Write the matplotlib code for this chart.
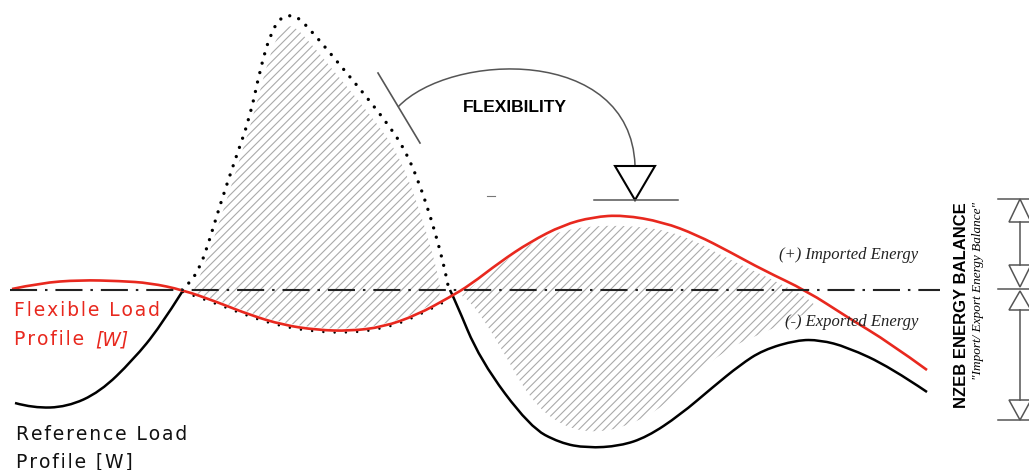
import matplotlib.pyplot as plt
from matplotlib.path import Path
from matplotlib.patches import PathPatch, Polygon

# curve points (pixel coords, y down)
red_x = [12, 40, 80, 120, 150, 183, 217, 250, 283, 317, 350, 383, 417, 450, 470,
         500, 530, 563, 593, 623, 663, 697, 730, 763, 807, 847, 890, 927]
red_y = [289, 283, 280, 281, 283, 290, 302, 315, 325, 330, 331, 327, 315, 297, 285,
         262, 242, 225, 217, 215, 222, 235, 252, 270, 291, 317, 343, 370]

ref_left_x = [15, 33, 67, 100, 133, 160, 182]
ref_left_y = [403, 408, 407, 392, 360, 327, 292]

ref_peak_x = [182, 190, 200, 208, 220, 235, 250, 260, 270, 280, 290, 298, 315,
              340, 365, 390, 405, 418, 430, 440, 446, 449]
ref_peak_y = [290, 283, 267, 245, 205, 160, 117, 70, 35, 18, 15, 17, 35,
              65, 95, 127, 150, 180, 215, 250, 275, 290]

ref_right_x = [450, 455, 480, 530, 560, 587, 620, 647, 680, 713, 740, 763, 797,
               820, 847, 890, 927]
ref_right_y = [290, 300, 360, 427, 443, 448, 446, 437, 415, 387, 365, 350, 340,
               340, 347, 367, 392]

# hatched areas (shifted reference / flexible demand)
hatch_l_x = [193, 205, 220, 238, 255, 268, 280, 292, 308, 333, 358, 382, 397, 410,
             421, 431, 438, 442, 417, 383, 350, 317, 283, 250, 217, 193]
hatch_l_y = [292, 265, 220, 165, 110, 60, 30, 24, 40, 70, 100, 130, 153, 183,
             215, 248, 275, 298, 313, 325, 329, 328, 323, 313, 300, 292]

hatch_r_x = [462, 467, 497, 530, 573, 630, 680, 730, 780, 823, 797, 763, 730, 697,
             663, 630, 597, 563, 530, 497, 470, 462]
hatch_r_y = [296, 290, 267, 243, 227, 225, 233, 260, 283, 307, 317, 333, 347, 373,
             407, 425, 433, 427, 400, 340, 300, 296]

balance_y = 290


def smooth(xs, ys):
    pts = list(zip(xs, ys))
    verts = [pts[0]]
    codes = [Path.MOVETO]
    for i in range(1, len(pts) - 1):
        mid = ((pts[i][0] + pts[i + 1][0]) / 2, (pts[i][1] + pts[i + 1][1]) / 2)
        if i == len(pts) - 2:
            mid = pts[-1]
        verts += [pts[i], mid]
        codes += [Path.CURVE3, Path.CURVE3]
    return Path(verts, codes)


def spaced(s):
    # the labels in the picture have a little extra letter spacing
    return '\u200a'.join(s)


plt.rcParams['hatch.linewidth'] = 0.8

fig = plt.figure(figsize=(10.29, 4.70), dpi=100)
ax = fig.add_axes([0, 0, 1, 1])
ax.set_xlim(0, 1029)
ax.set_ylim(470, 0)
ax.axis('off')

# hatched areas
for hx, hy in [(hatch_l_x, hatch_l_y), (hatch_r_x, hatch_r_y)]:
    ax.add_patch(PathPatch(smooth(hx, hy), facecolor='none', edgecolor='#aaaaaa',
                           hatch='////', lw=0))

# balance line
ax.plot([10, 940], [balance_y, balance_y], color='#222222', lw=1.5,
        linestyle=(0, (13, 3.8, 1.2, 3.8)))

# reference profile
ax.add_patch(PathPatch(smooth(ref_left_x, ref_left_y), fc='none', ec='black', lw=1.8))
ax.add_patch(PathPatch(smooth(ref_right_x, ref_right_y), fc='none', ec='black', lw=1.8))
ax.add_patch(PathPatch(smooth(ref_peak_x, ref_peak_y), fc='none', ec='black', lw=2.4,
                       linestyle=(0, (0.01, 2.9)), capstyle='round'))
mid_x = red_x[5:14]
mid_y = [v + 2 for v in red_y[5:14]]
ax.add_patch(PathPatch(smooth(mid_x, mid_y), fc='none', ec='black', lw=1.8,
                       linestyle=(0, (0.01, 4.5)), capstyle='round'))

# flexible profile
ax.add_patch(PathPatch(smooth(red_x, red_y), fc='none', ec='#e8281e', lw=1.9))

# flexibility arrow
ax.plot([378, 420], [73, 143], color='#555555', lw=1.2)
arc = Path([(398, 107), (450, 52), (630, 45), (635, 165)],
           [Path.MOVETO, Path.CURVE4, Path.CURVE4, Path.CURVE4])
ax.add_patch(PathPatch(arc, fc='none', ec='#555555', lw=1.1))
ax.add_patch(Polygon([(615, 166), (655, 166), (635, 200)], closed=True, fc='white',
                     ec='black', lw=1.5))
ax.plot([594, 678], [200, 200], color='#555555', lw=1.1)
ax.plot([487, 495], [196, 196], color='#777777', lw=0.8)
ax.text(515, 108, 'FLEXIBILITY', ha='center', va='center', fontsize=12.5,
        fontweight='bold', family='Liberation Sans')

# energy labels
ax.text(918, 255, '(+) Imported Energy', ha='right', va='center', fontsize=12,
        style='italic', family='Liberation Serif', color='#222222')
ax.text(918, 322, '(-) Exported Energy', ha='right', va='center', fontsize=12,
        style='italic', family='Liberation Serif', color='#222222')

# profile labels
ax.text(14, 316, spaced('Flexible Load'), color='#e8281e', fontsize=13.5, va='baseline')
ax.text(14, 345, spaced('Profile'), color='#e8281e', fontsize=13.5, va='baseline')
ax.text(95, 345, '[W]', color='#e8281e', fontsize=13.5, va='baseline', style='italic')
ax.text(16, 440, spaced('Reference Load'), color='#111111', fontsize=13.5, va='baseline')
ax.text(16, 468, spaced('Profile [W]'), color='#111111', fontsize=13.5, va='baseline')

# NZEB balance scale
ax.text(961, 202, 'NZEB ENERGY BALANCE', rotation=90, ha='center', va='top',
        fontsize=12, fontweight='bold', family='Liberation Sans')
ax.text(978, 202, '"Import/ Export Energy Balance"', rotation=90, ha='center',
        va='top', fontsize=9.5, style='italic', family='Liberation Serif')
gc = '#555555'
ax.plot([1020, 1020], [222, 265], color=gc, lw=1.1)
ax.plot([1020, 1020], [310, 400], color=gc, lw=1.1)
for yy in [199, 289, 420]:
    ax.plot([998, 1029], [yy, yy], color=gc, lw=1.1)
for base, tip in [(222, 199), (265, 287), (310, 291), (400, 420)]:
    ax.add_patch(Polygon([(1009, base), (1031, base), (1020, tip)], closed=True,
                         fc='white', ec=gc, lw=1.1, clip_on=False))

fig.savefig('out.png', dpi=100)
